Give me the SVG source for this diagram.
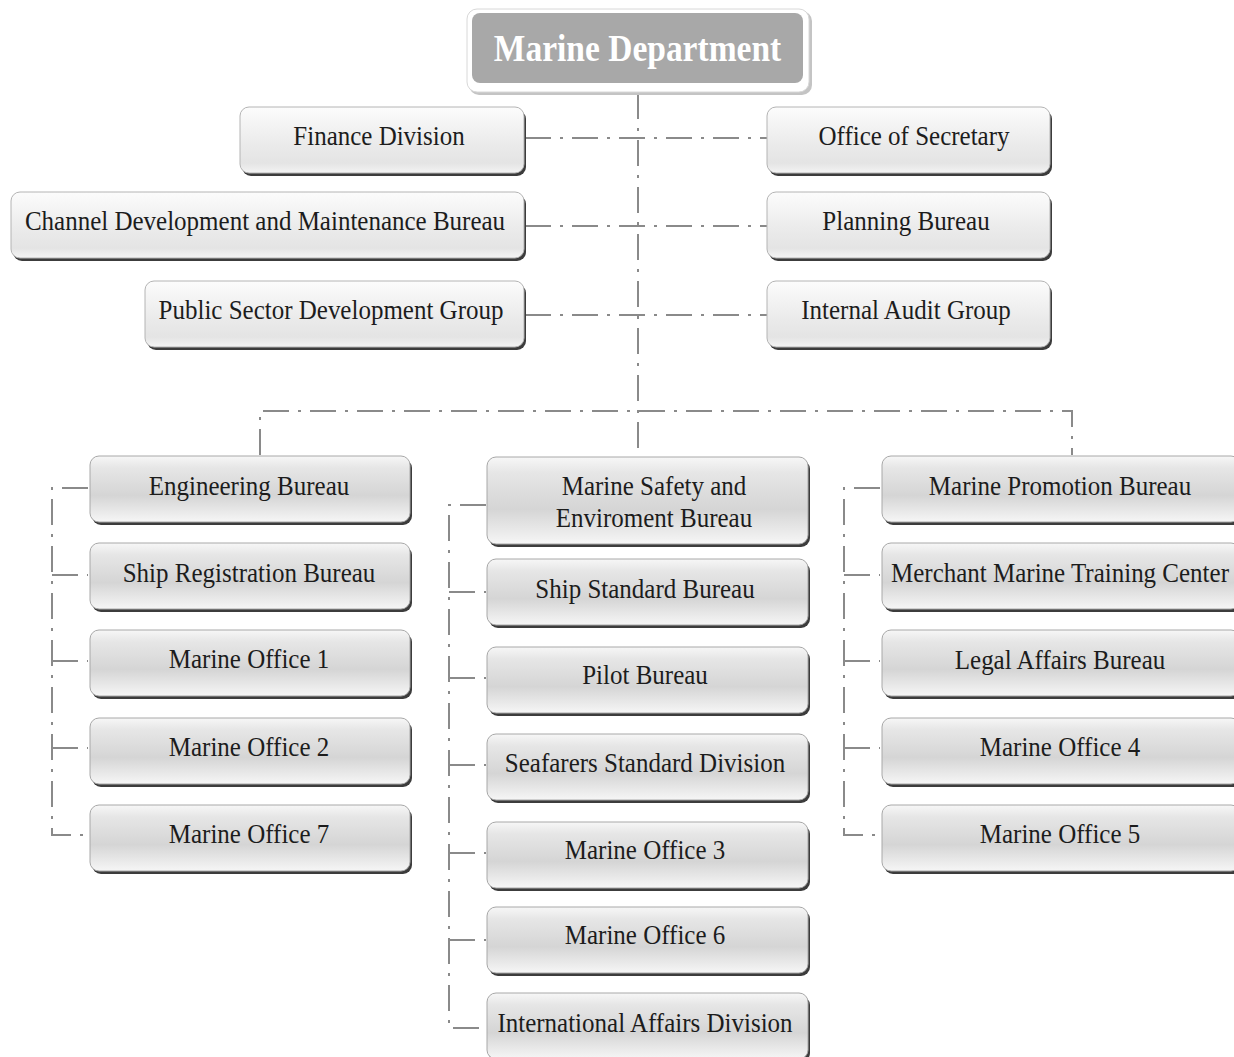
<svg xmlns="http://www.w3.org/2000/svg" width="1234" height="1057" viewBox="0 0 1234 1057">
<defs>
<linearGradient id="g" x1="0" y1="0" x2="0" y2="1">
<stop offset="0" stop-color="#f7f7f7"/>
<stop offset="0.18" stop-color="#e6e6e6"/>
<stop offset="0.6" stop-color="#d5d5d5"/>
<stop offset="0.88" stop-color="#ececec"/>
<stop offset="1" stop-color="#f6f6f6"/>
</linearGradient>
<linearGradient id="gt" x1="0" y1="0" x2="0" y2="1">
<stop offset="0" stop-color="#fcfcfc"/>
<stop offset="0.55" stop-color="#ebebeb"/>
<stop offset="0.85" stop-color="#e4e4e4"/>
<stop offset="1" stop-color="#f4f4f4"/>
</linearGradient>
<style>
.sh{fill:#3c3c3c}
.b{fill:url(#g);stroke:#a8a8a8;stroke-width:1}
.bt{fill:url(#gt);stroke:#b4b4b4;stroke-width:1}
.t{font-family:"Liberation Serif","Times New Roman",serif;font-size:25px;fill:#1c1c1c;text-anchor:middle}
.title{font-family:"Liberation Serif","Times New Roman",serif;font-size:33.5px;font-weight:bold;fill:#ffffff;text-anchor:middle}
.c{fill:none;stroke:#8a8a8a;stroke-width:2;stroke-dasharray:26 9 3 9}
</style>
</defs>
<rect width="1234" height="1057" fill="#ffffff"/>

<g id="connectors">
<path class="c" d="M638,93 V456"/>
<path class="c" d="M525,138 H767"/>
<path class="c" d="M525,226 H767"/>
<path class="c" d="M525,315 H767"/>
<path class="c" d="M260,455 V411 H1072 V455"/>
<path class="c" d="M88,488 H52 V835 H88"/>
<path class="c" d="M52,575 H88"/>
<path class="c" d="M52,661 H88"/>
<path class="c" d="M52,748 H88"/>
<path class="c" d="M486,505 H449 V1028 H486"/>
<path class="c" d="M449,592 H486"/>
<path class="c" d="M449,678 H486"/>
<path class="c" d="M449,765 H486"/>
<path class="c" d="M449,853 H486"/>
<path class="c" d="M449,940 H486"/>
<path class="c" d="M880,488 H844 V835 H880"/>
<path class="c" d="M844,575 H880"/>
<path class="c" d="M844,661 H880"/>
<path class="c" d="M844,748 H880"/>
</g>

<g id="marine-department">
<rect x="469" y="11" width="343" height="84" rx="10" fill="#c4c4c4"/>
<rect x="467" y="9" width="342" height="83" rx="10" fill="#ffffff" stroke="#d8d8d8"/>
<rect x="472" y="13" width="331" height="70" rx="8" fill="#a8a8a8"/>
<text class="title" transform="translate(637.5,61) scale(1,1.15)">Marine Department</text>
</g>

<g id="finance-division">
<rect class="sh" x="242" y="110" width="284" height="66" rx="9"/>
<rect class="bt" x="240" y="107" width="284" height="66" rx="9"/>
<text class="t" transform="translate(379,145) scale(1,1.1)">Finance Division</text>
</g>
<g id="office-of-secretary">
<rect class="sh" x="769" y="110" width="283" height="66" rx="9"/>
<rect class="bt" x="767" y="107" width="283" height="66" rx="9"/>
<text class="t" transform="translate(914,145) scale(1,1.1)">Office of Secretary</text>
</g>
<g id="channel-development">
<rect class="sh" x="13" y="195" width="513" height="66" rx="9"/>
<rect class="bt" x="11" y="192" width="513" height="66" rx="9"/>
<text class="t" transform="translate(265,230) scale(1,1.1)">Channel Development and Maintenance Bureau</text>
</g>
<g id="planning-bureau">
<rect class="sh" x="769" y="195" width="283" height="66" rx="9"/>
<rect class="bt" x="767" y="192" width="283" height="66" rx="9"/>
<text class="t" transform="translate(906,230) scale(1,1.1)">Planning Bureau</text>
</g>
<g id="public-sector">
<rect class="sh" x="147" y="284" width="379" height="66" rx="9"/>
<rect class="bt" x="145" y="281" width="379" height="66" rx="9"/>
<text class="t" transform="translate(331,319) scale(1,1.1)">Public Sector Development Group</text>
</g>
<g id="internal-audit">
<rect class="sh" x="769" y="284" width="283" height="66" rx="9"/>
<rect class="bt" x="767" y="281" width="283" height="66" rx="9"/>
<text class="t" transform="translate(906,319) scale(1,1.1)">Internal Audit Group</text>
</g>

<g id="engineering-bureau">
<rect class="sh" x="92" y="459" width="320" height="66" rx="9"/>
<rect class="b" x="90" y="456" width="320" height="66" rx="9"/>
<text class="t" transform="translate(249,495) scale(1,1.1)">Engineering Bureau</text>
</g>
<g id="ship-registration">
<rect class="sh" x="92" y="546" width="320" height="66" rx="9"/>
<rect class="b" x="90" y="543" width="320" height="66" rx="9"/>
<text class="t" transform="translate(249,582) scale(1,1.1)">Ship Registration Bureau</text>
</g>
<g id="marine-office-1">
<rect class="sh" x="92" y="633" width="320" height="66" rx="9"/>
<rect class="b" x="90" y="630" width="320" height="66" rx="9"/>
<text class="t" transform="translate(249,668) scale(1,1.1)">Marine Office 1</text>
</g>
<g id="marine-office-2">
<rect class="sh" x="92" y="721" width="320" height="66" rx="9"/>
<rect class="b" x="90" y="718" width="320" height="66" rx="9"/>
<text class="t" transform="translate(249,756) scale(1,1.1)">Marine Office 2</text>
</g>
<g id="marine-office-7">
<rect class="sh" x="92" y="808" width="320" height="66" rx="9"/>
<rect class="b" x="90" y="805" width="320" height="66" rx="9"/>
<text class="t" transform="translate(249,843) scale(1,1.1)">Marine Office 7</text>
</g>

<g id="marine-safety">
<rect class="sh" x="489" y="460" width="321" height="87" rx="9"/>
<rect class="b" x="487" y="457" width="321" height="87" rx="9"/>
<text class="t" transform="translate(654,495) scale(1,1.1)">Marine Safety and</text>
<text class="t" transform="translate(654,527) scale(1,1.1)">Enviroment Bureau</text>
</g>
<g id="ship-standard">
<rect class="sh" x="489" y="562" width="321" height="66" rx="9"/>
<rect class="b" x="487" y="559" width="321" height="66" rx="9"/>
<text class="t" transform="translate(645,598) scale(1,1.1)">Ship Standard Bureau</text>
</g>
<g id="pilot-bureau">
<rect class="sh" x="489" y="650" width="321" height="66" rx="9"/>
<rect class="b" x="487" y="647" width="321" height="66" rx="9"/>
<text class="t" transform="translate(645,684) scale(1,1.1)">Pilot Bureau</text>
</g>
<g id="seafarers-standard">
<rect class="sh" x="489" y="737" width="321" height="66" rx="9"/>
<rect class="b" x="487" y="734" width="321" height="66" rx="9"/>
<text class="t" transform="translate(645,772) scale(1,1.1)">Seafarers Standard Division</text>
</g>
<g id="marine-office-3">
<rect class="sh" x="489" y="825" width="321" height="66" rx="9"/>
<rect class="b" x="487" y="822" width="321" height="66" rx="9"/>
<text class="t" transform="translate(645,859) scale(1,1.1)">Marine Office 3</text>
</g>
<g id="marine-office-6">
<rect class="sh" x="489" y="910" width="321" height="66" rx="9"/>
<rect class="b" x="487" y="907" width="321" height="66" rx="9"/>
<text class="t" transform="translate(645,944) scale(1,1.1)">Marine Office 6</text>
</g>
<g id="international-affairs">
<rect class="sh" x="489" y="996" width="321" height="66" rx="9"/>
<rect class="b" x="487" y="993" width="321" height="66" rx="9"/>
<text class="t" transform="translate(645,1032) scale(1,1.1)">International Affairs Division</text>
</g>

<g id="marine-promotion">
<rect class="sh" x="884" y="459" width="358" height="66" rx="9"/>
<rect class="b" x="882" y="456" width="358" height="66" rx="9"/>
<text class="t" transform="translate(1060,495) scale(1,1.1)">Marine Promotion Bureau</text>
</g>
<g id="merchant-marine">
<rect class="sh" x="884" y="546" width="358" height="66" rx="9"/>
<rect class="b" x="882" y="543" width="358" height="66" rx="9"/>
<text class="t" transform="translate(1060,582) scale(1,1.1)">Merchant Marine Training Center</text>
</g>
<g id="legal-affairs">
<rect class="sh" x="884" y="633" width="358" height="66" rx="9"/>
<rect class="b" x="882" y="630" width="358" height="66" rx="9"/>
<text class="t" transform="translate(1060,669) scale(1,1.1)">Legal Affairs Bureau</text>
</g>
<g id="marine-office-4">
<rect class="sh" x="884" y="721" width="358" height="66" rx="9"/>
<rect class="b" x="882" y="718" width="358" height="66" rx="9"/>
<text class="t" transform="translate(1060,756) scale(1,1.1)">Marine Office 4</text>
</g>
<g id="marine-office-5">
<rect class="sh" x="884" y="808" width="358" height="66" rx="9"/>
<rect class="b" x="882" y="805" width="358" height="66" rx="9"/>
<text class="t" transform="translate(1060,843) scale(1,1.1)">Marine Office 5</text>
</g>
</svg>
